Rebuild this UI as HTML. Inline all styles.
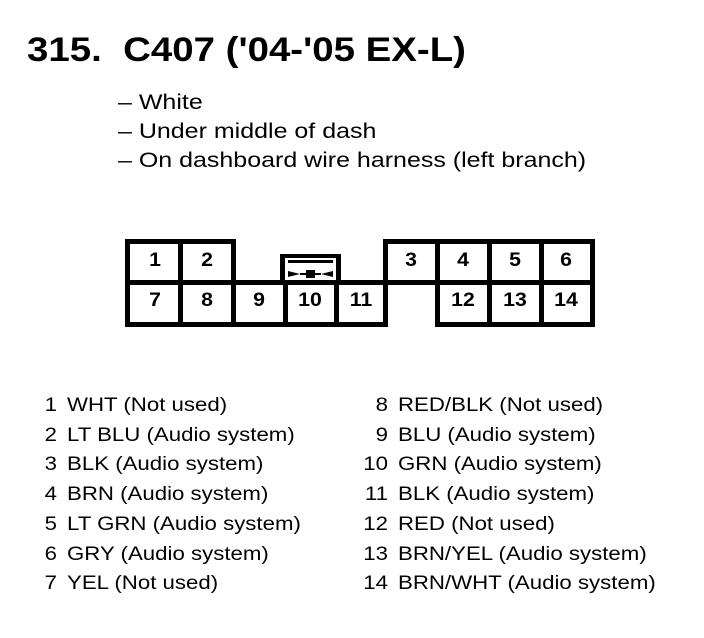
<!DOCTYPE html>
<html><head><style>
body{margin:0;width:704px;height:638px;background:#fff;position:relative;font-family:"Liberation Sans",Arial,sans-serif;color:#000;overflow:hidden}
.t{position:absolute;white-space:nowrap;transform-origin:0 0}
.b{position:absolute;background:#000}
.n{position:absolute;font-weight:bold;font-size:19px;text-align:center;width:50px;transform:scaleX(1.12)}
.r{position:absolute;font-size:19px;white-space:nowrap}
.num{display:inline-block;text-align:right;width:27px;transform:scaleX(1.17);transform-origin:100% 50%}
.tx{display:inline-block;transform:scaleX(1.17);transform-origin:0 50%;margin-left:10px}
</style></head><body>
<div class="t" style="left:27px;top:31px;font-size:34px;font-weight:bold;transform:scaleX(1.13)">315.&nbsp; C407 ('04-'05 EX-L)</div>
<div class="t" style="left:118px;top:88px;font-size:21px;line-height:29px;transform:scaleX(1.19)">– White<br>– Under middle of dash<br>– On dashboard wire harness (left branch)</div>

<div class="b" style="left:125px;top:239px;width:110px;height:5px"></div>
<div class="b" style="left:125px;top:239px;width:5px;height:88px"></div>
<div class="b" style="left:178px;top:239px;width:5px;height:88px"></div>
<div class="b" style="left:231px;top:239px;width:5px;height:46px"></div>
<div class="b" style="left:125px;top:280px;width:470px;height:5px"></div>
<div class="b" style="left:125px;top:322px;width:263px;height:5px"></div>
<div class="b" style="left:231px;top:280px;width:5px;height:47px"></div>
<div class="b" style="left:283px;top:280px;width:5px;height:47px"></div>
<div class="b" style="left:334px;top:280px;width:5px;height:47px"></div>
<div class="b" style="left:383px;top:239px;width:5px;height:88px"></div>
<div class="b" style="left:383px;top:239px;width:212px;height:5px"></div>
<div class="b" style="left:435px;top:239px;width:5px;height:88px"></div>
<div class="b" style="left:487px;top:239px;width:5px;height:88px"></div>
<div class="b" style="left:539px;top:239px;width:5px;height:88px"></div>
<div class="b" style="left:590px;top:239px;width:5px;height:88px"></div>
<div class="b" style="left:435px;top:322px;width:160px;height:5px"></div>
<div class="b" style="left:280px;top:254px;width:61px;height:4px"></div>
<div class="b" style="left:280px;top:254px;width:5px;height:30px"></div>
<div class="b" style="left:336px;top:254px;width:5px;height:30px"></div>
<div class="b" style="left:288px;top:260px;width:45px;height:3px"></div>
<svg style="position:absolute;left:285px;top:268px" width="51" height="12"><polygon points="3,3 15,6 3,9" fill="#000"/><polygon points="48,3 36,6 48,9" fill="#000"/><rect x="21" y="2" width="9" height="8" fill="#000"/><rect x="15" y="5" width="21" height="2" fill="#000"/></svg>

<div class="n" style="left:130px;top:250px">1</div>
<div class="n" style="left:182px;top:250px">2</div>
<div class="n" style="left:386px;top:250px">3</div>
<div class="n" style="left:438px;top:250px">4</div>
<div class="n" style="left:490px;top:250px">5</div>
<div class="n" style="left:541px;top:250px">6</div>
<div class="n" style="left:130px;top:290px">7</div>
<div class="n" style="left:182px;top:290px">8</div>
<div class="n" style="left:234px;top:290px">9</div>
<div class="n" style="left:285px;top:290px">10</div>
<div class="n" style="left:336px;top:290px">11</div>
<div class="n" style="left:438px;top:290px">12</div>
<div class="n" style="left:490px;top:290px">13</div>
<div class="n" style="left:541px;top:290px">14</div>

<div class="r" style="left:30px;top:391px;line-height:29.7px">
<span class="num">1</span><span class="tx">WHT (Not used)</span><br>
<span class="num">2</span><span class="tx">LT BLU (Audio system)</span><br>
<span class="num">3</span><span class="tx">BLK (Audio system)</span><br>
<span class="num">4</span><span class="tx">BRN (Audio system)</span><br>
<span class="num">5</span><span class="tx">LT GRN (Audio system)</span><br>
<span class="num">6</span><span class="tx">GRY (Audio system)</span><br>
<span class="num">7</span><span class="tx">YEL (Not used)</span></div>
<div class="r" style="left:361px;top:391px;line-height:29.7px">
<span class="num">8</span><span class="tx">RED/BLK (Not used)</span><br>
<span class="num">9</span><span class="tx">BLU (Audio system)</span><br>
<span class="num">10</span><span class="tx">GRN (Audio system)</span><br>
<span class="num">11</span><span class="tx">BLK (Audio system)</span><br>
<span class="num">12</span><span class="tx">RED (Not used)</span><br>
<span class="num">13</span><span class="tx">BRN/YEL (Audio system)</span><br>
<span class="num">14</span><span class="tx">BRN/WHT (Audio system)</span></div>
</body></html>
